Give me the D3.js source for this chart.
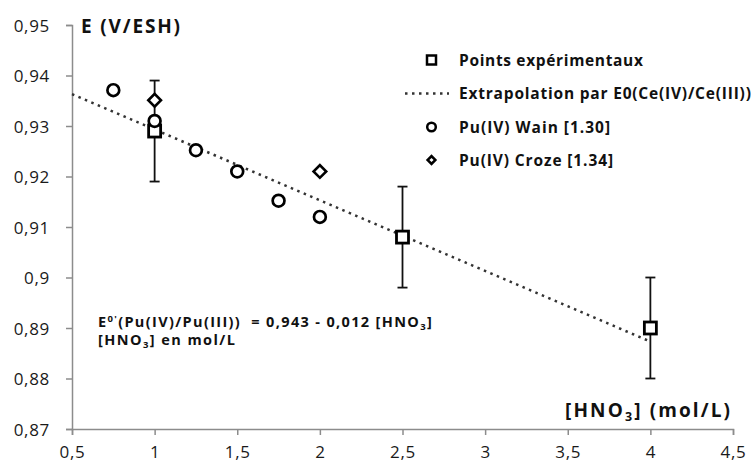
<!DOCTYPE html>
<html><head><meta charset="utf-8">
<script src="https://cdn.jsdelivr.net/npm/d3@7"></script>
<style>body{margin:0;background:#fff}svg{display:block}text{font-family:"Open Sans",sans-serif}</style>
</head><body>
<svg id="c" width="753" height="465"></svg>
<script>
const xTicks = [0.5,1,1.5,2,2.5,3,3.5,4,4.5];
const xTickLabels = ["0,5","1","1,5","2","2,5","3","3,5","4","4,5"];
const yTicks = [0.87,0.88,0.89,0.9,0.91,0.92,0.93,0.94,0.95];
const yTickLabels = ["0,87","0,88","0,89","0,9","0,91","0,92","0,93","0,94","0,95"];
const expX = [1, 2.5, 4];
const expY = [0.929, 0.908, 0.890];
const expErr = [0.010, 0.010, 0.010];
const lineX = [0.5, 4];
const lineY = [0.9363, 0.8873];
const wainX = [0.75, 1, 1.25, 1.5, 1.75, 2];
const wainY = [0.9371, 0.931, 0.9252, 0.921, 0.9152, 0.912];
const crozeX = [1, 2];
const crozeY = [0.9351, 0.921];
const legendLabels = ["Points expérimentaux","Extrapolation par E0(Ce(IV)/Ce(III))","Pu(IV) Wain [1.30]","Pu(IV) Croze [1.34]"];

const svg = d3.select("#c");
const x = d3.scaleLinear().domain([0.5,4.5]).range([72,733]);
const y = d3.scaleLinear().domain([0.87,0.95]).range([429,25]);
const axisCol = "#8c8c8c";

// stretch letter spacing so a text spans the given width
function fit(sel, w){
  const node = sel.node();
  const n = node.textContent.length;
  const nat = node.getComputedTextLength();
  sel.attr("letter-spacing", ((w - nat)/Math.max(1,n-1)).toFixed(2));
}

const xa = svg.append("g").attr("transform","translate(0,429)")
  .call(d3.axisBottom(x).tickValues(xTicks).tickSize(6).tickFormat((d,i)=>xTickLabels[i]));
const ya = svg.append("g").attr("transform","translate(72,0)")
  .call(d3.axisLeft(y).tickValues(yTicks).tickSize(6).tickFormat((d,i)=>yTickLabels[i]));
[xa,ya].forEach(a=>{a.selectAll("path,line").attr("stroke",axisCol).attr("stroke-width",1.5);
  a.selectAll("text").attr("fill","#1a1a1a").style("font-size","17px").style("font-family","'Open Sans',sans-serif").attr("letter-spacing",0.7);});
xa.selectAll("text").attr("y",29).attr("dy",0);
ya.selectAll("text").attr("x",-22).attr("dy","0.36em");

// extrapolation line
svg.append("path").datum(lineX.map((v,i)=>[v,lineY[i]]))
  .attr("d", d3.line().x(d=>x(d[0])).y(d=>y(d[1])))
  .attr("fill","none").attr("stroke","#333").attr("stroke-width",2.5).attr("stroke-dasharray","2.5,4.5");

// error bars
const eb = svg.append("g").attr("stroke","#111").attr("stroke-width",1.8);
expX.forEach((v,i)=>{
  const cx=x(v), y1=y(expY[i]-expErr[i]), y2=y(expY[i]+expErr[i]);
  eb.append("line").attr("x1",cx).attr("x2",cx).attr("y1",y1).attr("y2",y2);
  eb.append("line").attr("x1",cx-5).attr("x2",cx+5).attr("y1",y1).attr("y2",y1);
  eb.append("line").attr("x1",cx-5).attr("x2",cx+5).attr("y1",y2).attr("y2",y2);
});

// squares
svg.append("g").selectAll("rect").data(expX).join("rect")
  .attr("x",(d)=>x(d)-6).attr("y",(d,i)=>y(expY[i])-6).attr("width",12).attr("height",12)
  .attr("fill","#fff").attr("stroke","#000").attr("stroke-width",2.8);
// diamonds
svg.append("g").selectAll("path").data(crozeX).join("path")
  .attr("transform",(d,i)=>`translate(${x(d)},${y(crozeY[i])}) rotate(45)`)
  .attr("d", d3.symbol().type(d3.symbolSquare).size(80)())
  .attr("fill","#fff").attr("stroke","#000").attr("stroke-width",2.6);
// circles
svg.append("g").selectAll("circle").data(wainX).join("circle")
  .attr("cx",d=>x(d)).attr("cy",(d,i)=>y(wainY[i])).attr("r",5.9)
  .attr("fill","#fff").attr("stroke","#000").attr("stroke-width",2.7);

// axis titles
const t1 = svg.append("text").attr("x",81).attr("y",33).attr("font-weight","bold").style("font-size","19px").attr("fill","#111").text("E (V/ESH)");
fit(t1, 99);
const xt = svg.append("text").attr("x",565).attr("y",417).attr("font-weight","bold").style("font-size","19px").attr("fill","#111");
xt.append("tspan").text("[HNO");
xt.append("tspan").attr("dy",4).style("font-size","12.5px").text("3");
xt.append("tspan").attr("dy",-4).text("] (mol/L)");
fit(xt, 165);

// equation
const eq = svg.append("text").attr("x",98).attr("y",327).attr("font-weight","bold").style("font-size","14.5px").style("white-space","pre").attr("fill","#111");
eq.append("tspan").text("E");
eq.append("tspan").attr("dy",-5).style("font-size","9.5px").text("0'");
eq.append("tspan").attr("dy",5).text("(Pu(IV)/Pu(III))  = 0,943 - 0,012 [HNO");
eq.append("tspan").attr("dy",3).style("font-size","9.5px").text("3");
eq.append("tspan").attr("dy",-3).text("]");
fit(eq, 334);
const eq2 = svg.append("text").attr("x",98).attr("y",345).attr("font-weight","bold").style("font-size","14.5px").attr("fill","#111");
eq2.append("tspan").text("[HNO");
eq2.append("tspan").attr("dy",3).style("font-size","9.5px").text("3");
eq2.append("tspan").attr("dy",-3).text("] en mol/L");
fit(eq2, 137);

// legend
const lg = svg.append("g");
const ly = [60,93.5,127,160];
const lw = [184, 292, 151, 154];
legendLabels.forEach((t,i)=>{
  const tx = lg.append("text").attr("x",459).attr("y",ly[i]).attr("dy","0.36em").attr("font-weight","bold").style("font-size","15.5px").attr("fill","#111").text(t);
  fit(tx, lw[i]);
});
lg.append("rect").attr("x",431.5-4.5).attr("y",ly[0]-4.5).attr("width",9).attr("height",9).attr("fill","#fff").attr("stroke","#000").attr("stroke-width",2.5);
lg.append("line").attr("x1",405).attr("x2",449).attr("y1",ly[1]).attr("y2",ly[1]).attr("stroke","#333").attr("stroke-width",2.5).attr("stroke-dasharray","2.5,4.5");
lg.append("circle").attr("cx",431.5).attr("cy",ly[2]).attr("r",4.3).attr("fill","#fff").attr("stroke","#000").attr("stroke-width",2.5);
lg.append("path").attr("transform",`translate(431.5,${ly[3]}) rotate(45)`).attr("d", d3.symbol().type(d3.symbolSquare).size(30)())
  .attr("fill","#fff").attr("stroke","#000").attr("stroke-width",2.5);
</script>
</body></html>
